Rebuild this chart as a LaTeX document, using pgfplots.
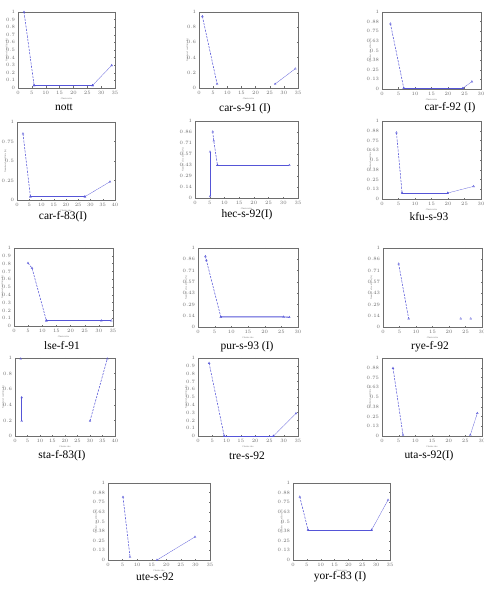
\documentclass[border=0pt]{standalone}
\usepackage{fontspec}
\setmainfont{Liberation Serif}
\usepackage{pgfplots}
\pgfplotsset{compat=1.18}
\definecolor{ml}{RGB}{85,85,215}
\definecolor{ax}{RGB}{110,110,110}
\pgfplotsset{
 panel/.style={scale only axis, xmin=0,xmax=1,ymin=0,ymax=1, clip=false,
  axis line style={ax,line width=0.5pt}, tick style={ax,line width=0.3pt},
  major tick length=1.5pt, tick align=inside,
  tick label style={font=\fontsize{2.5}{3}\selectfont, text=ax},
  yticklabel style={xshift=0.6pt},
  label style={font=\fontsize{2.4}{3}\selectfont, text=ax},
  xlabel={Cluster size}, ylabel={Number of conflicts (\%)},
  xlabel style={yshift=3.5pt},
  ylabel style={at={(axis description cs:-0.1,0.5)}, anchor=south, inner sep=0.3pt},
  anchor=north west},
 xt/.style 2 args={xtick={0,#1,...,1.001}, xticklabel={\pgfmathparse{\tick*#2}\pgfmathprintnumber[fixed,precision=0]{\pgfmathresult}}},
 yt/.style 2 args={ytick={0,#1,...,1.001}, yticklabel={\pgfmathparse{\tick*#2}\pgfmathprintnumber[fixed,precision=2]{\pgfmathresult}}},
 pds/.style={color=ml, draw=ml, line width=0.55pt, dash pattern=on 2.2pt off 1.2pt, mark=triangle, mark size=1.1pt, mark options={solid,draw=ml,line width=0.3pt}},
 pss/.style={color=ml, draw=ml, solid, line width=0.85pt, mark=triangle, mark size=1.1pt, mark options={solid,draw=ml,line width=0.3pt}},
 pts/.style={color=ml, draw=ml, line width=0.35pt, dash pattern=on 0.8pt off 0.4pt, mark=triangle, mark size=1.1pt, mark options={solid,draw=ml,line width=0.3pt}},
 pom/.style={color=ml, draw=ml, only marks, mark=triangle, mark size=1.1pt, mark options={solid,draw=ml,line width=0.3pt}},
}
\newcommand{\ttl}[3]{\node[font=\fontsize{11.5}{12}\selectfont] at (#1bp,599bp-#2bp) {#3};}
\begin{document}
\begin{tikzpicture}
\path[use as bounding box] (0,0) rectangle (484bp,599bp);
% 1 nott
\begin{axis}[panel, at={(18bp,599bp-12bp)}, width=97bp, height=76bp, xt={0.142857}{35}, yt={0.1}{1}]
\addplot[pds] coordinates {(0.062,1.0)(0.166,0.035)};
\addplot[pss] coordinates {(0.166,0.035)(0.769,0.035)};
\addplot[pts] coordinates {(0.769,0.035)(0.966,0.298)};
\end{axis}
\ttl{64}{107}{nott}
% 2 car-s-91
\begin{axis}[panel, at={(199bp,599bp-12bp)}, width=99bp, height=76bp, xt={0.142857}{35}, yt={0.2}{1}]
\addplot[pds] coordinates {(0.034,0.943)(0.183,0.053)};
\addplot[pts] coordinates {(0.769,0.053)(0.973,0.254)};
\end{axis}
\ttl{245}{109}{car-s-91 (I)}
% 3 car-f-92
\begin{axis}[panel, at={(382bp,599bp-12bp)}, width=99bp, height=77bp, xt={0.166667}{30}, yt={0.125}{1}]
\addplot[pds] coordinates {(0.085,0.848)(0.22,0.01)};
\addplot[pss] coordinates {(0.22,0.01)(0.817,0.01)};
\addplot[pts] coordinates {(0.817,0.01)(0.908,0.096)};
\end{axis}
\ttl{450}{108}{car-f-92 (I)}
% 4 car-f-83
\begin{axis}[panel, at={(17bp,599bp-122bp)}, width=98bp, height=78bp, xt={0.125}{40}, yt={0.25}{1}]
\addplot[pds] coordinates {(0.061,0.851)(0.137,0.043)};
\addplot[pss] coordinates {(0.137,0.043)(0.693,0.043)};
\addplot[pts] coordinates {(0.693,0.043)(0.949,0.234)};
\end{axis}
\ttl{63}{217}{car-f-83(I)}
% 5 hec-s-92
\begin{axis}[panel, at={(195bp,599bp-121bp)}, width=103bp, height=77bp, xt={0.142857}{35}, yt={0.142857}{1}]
\addplot[pss] coordinates {(0.146,0.02)(0.146,0.6)};
\addplot[pds] coordinates {(0.172,0.861)(0.182,0.743)(0.218,0.426)};
\addplot[pss] coordinates {(0.218,0.426)(0.916,0.426)};
\end{axis}
\ttl{247}{215}{hec-s-92(I)}
% 6 kfu-s-93
\begin{axis}[panel, at={(382bp,599bp-121bp)}, width=99bp, height=78bp, xt={0.166667}{30}, yt={0.125}{1}]
\addplot[pds] coordinates {(0.146,0.851)(0.203,0.077)};
\addplot[pss] coordinates {(0.203,0.077)(0.664,0.077)};
\addplot[pts] coordinates {(0.664,0.077)(0.925,0.162)};
\end{axis}
\ttl{429}{217}{kfu-s-93}
% 7 lse-f-91
\begin{axis}[panel, at={(14bp,599bp-248bp)}, width=99bp, height=78bp, xt={0.142857}{35}, yt={0.1}{1}]
\addplot[pds] coordinates {(0.141,0.807)(0.182,0.742)(0.327,0.069)};
\addplot[pss] coordinates {(0.327,0.069)(0.882,0.069)(0.983,0.069)};
\end{axis}
\ttl{62}{346}{lse-f-91}
% 8 pur-s-93
\begin{axis}[panel, at={(198bp,599bp-248bp)}, width=100bp, height=79bp, xt={0.166667}{30}, yt={0.142857}{1}]
\addplot[pds] coordinates {(0.074,0.894)(0.084,0.843)(0.228,0.128)};
\addplot[pss] coordinates {(0.228,0.128)(0.856,0.128)(0.913,0.123)};
\end{axis}
\ttl{247}{347}{pur-s-93 (I)}
% 9 rye-f-92
\begin{axis}[panel, at={(383bp,599bp-248bp)}, width=99bp, height=79bp, xt={0.166667}{30}, yt={0.142857}{1}]
\addplot[pds] coordinates {(0.158,0.8)(0.259,0.106)};
\addplot[pom] coordinates {(0.785,0.106)(0.886,0.106)};
\end{axis}
\ttl{430}{347}{rye-f-92}
% 10 sta-f-83
\begin{axis}[panel, at={(15bp,599bp-358bp)}, width=100bp, height=78bp, xt={0.125}{40}, yt={0.2}{1}]
\addplot[pss] coordinates {(0.067,0.494)(0.067,0.193)};
\addplot[pom] coordinates {(0.057,0.99)};
\addplot[pds] coordinates {(0.75,0.193)(0.923,0.991)};
\end{axis}
\ttl{62}{456}{sta-f-83(I)}
% 11 tre-s-92
\begin{axis}[panel, at={(198bp,599bp-358bp)}, width=100bp, height=78bp, xt={0.142857}{35}, yt={0.1}{1}]
\addplot[pds] coordinates {(0.111,0.935)(0.262,0.0)};
\addplot[pss] coordinates {(0.262,0.0)(0.755,0.0)};
\addplot[pts] coordinates {(0.755,0.0)(0.98,0.289)};
\end{axis}
\ttl{247}{456}{tre-s-92}
% 12 uta-s-92
\begin{axis}[panel, at={(382bp,599bp-358bp)}, width=100bp, height=78bp, xt={0.166667}{30}, yt={0.125}{1}]
\addplot[pds] coordinates {(0.11,0.871)(0.21,0.013)};
\addplot[pts] coordinates {(0.883,0.013)(0.953,0.292)};
\end{axis}
\ttl{429}{456}{uta-s-92(I)}
% 13 ute-s-92
\begin{axis}[panel, at={(108bp,599bp-483bp)}, width=102bp, height=77bp, xt={0.142857}{35}, yt={0.125}{1}]
\addplot[pds] coordinates {(0.147,0.818)(0.216,0.04)};
\addplot[pts] coordinates {(0.48,0.0)(0.853,0.3)};
\end{axis}
\ttl{155}{577}{ute-s-92}
% 14 yor-f-83
\begin{axis}[panel, at={(293bp,599bp-483bp)}, width=97bp, height=77bp, xt={0.142857}{35}, yt={0.125}{1}]
\addplot[pds] coordinates {(0.07,0.82)(0.155,0.39)};
\addplot[pss] coordinates {(0.155,0.39)(0.81,0.39)};
\addplot[pts] coordinates {(0.81,0.39)(0.98,0.78)};
\end{axis}
\ttl{340}{577}{yor-f-83 (I)}
\end{tikzpicture}
\end{document}
